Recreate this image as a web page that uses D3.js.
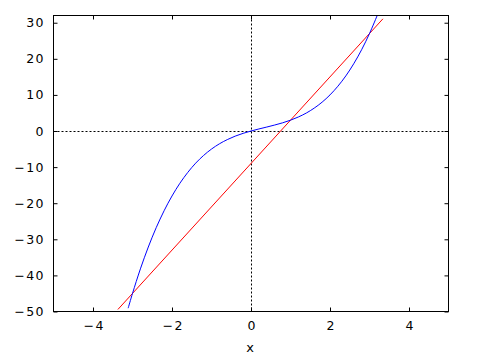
<!DOCTYPE html>
<html>
<head>
<meta charset="utf-8">
<script src="https://cdn.jsdelivr.net/npm/d3@7"></script>
<style>
  html, body { margin: 0; padding: 0; background: #fff; }
  svg { display: block; }
  text { font-family: "DejaVu Sans", "Liberation Sans", Arial, sans-serif; font-size: 12px; fill: #000; }
</style>
</head>
<body>
<svg id="chart" width="480" height="360"></svg>
<script>
// Data
const xTicks = [-4, -2, 0, 2, 4];
const yTicks = [-50, -40, -30, -20, -10, 0, 10, 20, 30];
const xDomain = [-5, 5];
const yDomain = [-50, 32];

// blue curve samples (x, y)
const curveX = [-3.11, -3.0, -2.8, -2.6, -2.4, -2.2, -2.0, -1.8, -1.6, -1.4, -1.2, -1.0, -0.8, -0.6, -0.4, -0.2,
                0.0, 0.2, 0.4, 0.6, 0.8, 1.0, 1.2, 1.4, 1.6, 1.8, 2.0, 2.2, 2.4, 2.6, 2.8, 3.0, 3.2];
const curveY = [-49.08, -45.0, -38.19, -32.14, -26.78, -22.09, -18.0, -14.47, -11.46, -8.9, -6.77, -5.0, -3.55, -2.38, -1.42, -0.65,
                0.0, 0.57, 1.1, 1.66, 2.27, 3.0, 3.89, 4.98, 6.34, 7.99, 10.0, 12.41, 15.26, 18.62, 22.51, 27.0, 32.13];

// red straight line end points (x, y)
const lineX = [-3.37, 3.34];
const lineY = [-49.44, 31.08];

const xLabel = "x";

const svg = d3.select("#chart");
const m = { left: 53.5, right: 448.5, top: 15.5, bottom: 311.5 };
const ls = 1.4; // letter spacing for tick labels

const x = d3.scaleLinear().domain(xDomain).range([m.left, m.right]);
const y = d3.scaleLinear().domain(yDomain).range([m.bottom, m.top]);

svg.append("defs").append("clipPath").attr("id", "clip")
  .append("rect").attr("x", m.left).attr("y", m.top)
  .attr("width", m.right - m.left).attr("height", m.bottom - m.top);

// zero axes (dotted)
svg.append("line")
  .attr("x1", m.left).attr("x2", m.right)
  .attr("y1", Math.round(y(0)) + 0.5).attr("y2", Math.round(y(0)) + 0.5)
  .attr("stroke", "#000").attr("stroke-width", 1).attr("stroke-dasharray", "2,2");
svg.append("line")
  .attr("x1", Math.round(x(0)) + 0.5).attr("x2", Math.round(x(0)) + 0.5)
  .attr("y1", m.top).attr("y2", m.bottom)
  .attr("stroke", "#000").attr("stroke-width", 1).attr("stroke-dasharray", "2,2");

// axes with inward ticks
const tickLen = 4;
const bottomAxis = d3.axisBottom(x).tickValues(xTicks).tickSize(-tickLen).tickPadding(10).tickFormat(d3.format("d"));
const topAxis = d3.axisTop(x).tickValues(xTicks).tickSize(-tickLen).tickFormat("");
const leftAxis = d3.axisLeft(y).tickValues(yTicks).tickSize(-tickLen).tickPadding(10).tickFormat(d3.format("d"));
const rightAxis = d3.axisRight(y).tickValues(yTicks).tickSize(-tickLen).tickFormat("");

function styleAxis(g) {
  g.select(".domain").remove();
  g.selectAll(".tick line").attr("stroke", "#000").attr("stroke-width", 1);
  g.selectAll("text")
    .style("font-family", "DejaVu Sans, Liberation Sans, Arial, sans-serif")
    .style("font-size", "12.5px")
    .style("letter-spacing", ls + "px")
    .attr("fill", "#000");
}

svg.append("g").attr("transform", `translate(0,${m.bottom})`).call(bottomAxis).call(styleAxis)
  .selectAll("text").attr("dy", "0.71em").attr("dx", ls / 2);
svg.append("g").attr("transform", `translate(0,${m.top})`).call(topAxis).call(styleAxis);
svg.append("g").attr("transform", `translate(${m.left},0)`).call(leftAxis).call(styleAxis)
  .selectAll("text").attr("dx", ls);
svg.append("g").attr("transform", `translate(${m.right},0)`).call(rightAxis).call(styleAxis);

// series
const curveData = curveX.map((v, i) => [v, curveY[i]]);
const lineData = lineX.map((v, i) => [v, lineY[i]]);
const lineGen = d3.line().x(d => x(d[0])).y(d => y(d[1]));

svg.append("path").datum(lineData)
  .attr("d", lineGen).attr("fill", "none").attr("stroke", "#ff0000").attr("stroke-width", 1)
  .attr("clip-path", "url(#clip)");
svg.append("path").datum(curveData)
  .attr("d", lineGen.curve(d3.curveCatmullRom)).attr("fill", "none").attr("stroke", "#0000ff").attr("stroke-width", 1)
  .attr("clip-path", "url(#clip)");

// frame
svg.append("rect").attr("x", m.left).attr("y", m.top)
  .attr("width", m.right - m.left).attr("height", m.bottom - m.top)
  .attr("fill", "none").attr("stroke", "#000").attr("stroke-width", 1);

// axis title
svg.append("text").attr("x", 250).attr("y", 352).attr("text-anchor", "middle")
  .style("font-size", "13px").text(xLabel);
</script>
</body>
</html>
